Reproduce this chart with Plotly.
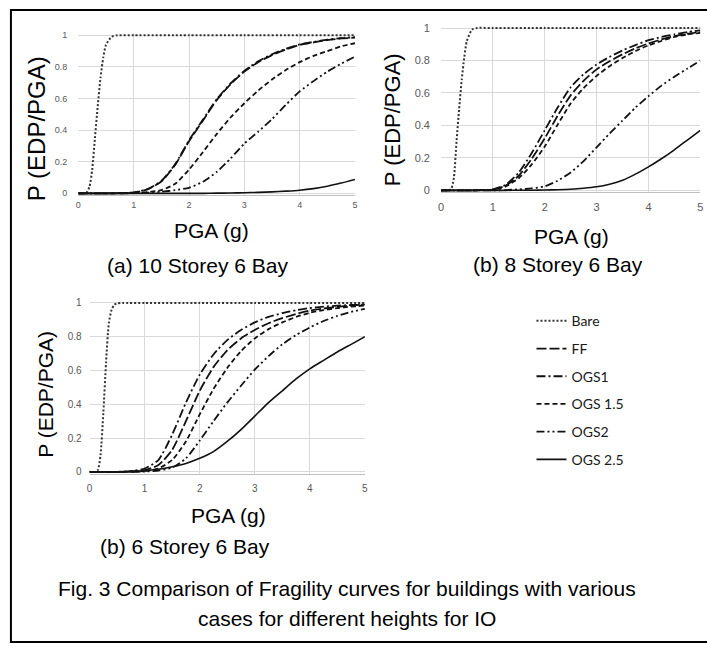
import plotly.graph_objects as go

# ---------------- data ----------------
PGA = [0, 0.25, 0.5, 0.75, 1.0, 1.25, 1.5, 1.75, 2.0, 2.25, 2.5,
       2.75, 3.0, 3.25, 3.5, 3.75, 4.0, 4.25, 4.5, 4.75, 5.0]
BARE_PGA = [0, 0.1, 0.15, 0.2, 0.25, 0.3, 0.35, 0.4, 0.45, 0.5, 0.6, 0.7,
            1.0, 2.0, 3.0, 4.0, 5.0]

SERIES = ["Bare", "FF", "OGS1", "OGS 1.5", "OGS2", "OGS 2.5"]

# (a) 10 Storey 6 Bay
BARE_A = [0, 0, 0.005, 0.04, 0.15, 0.35, 0.55, 0.73, 0.86, 0.94, 0.99, 1.0,
          1.0, 1.0, 1.0, 1.0, 1.0]
FF_A = [0, 0, 0, 0.001, 0.005, 0.025, 0.075, 0.18, 0.33, 0.46, 0.59,
        0.69, 0.77, 0.83, 0.875, 0.91, 0.94, 0.955, 0.97, 0.98, 0.985]
OGS1_A = [0, 0, 0, 0.001, 0.006, 0.027, 0.078, 0.185, 0.335, 0.465, 0.595,
          0.695, 0.775, 0.835, 0.88, 0.915, 0.942, 0.958, 0.972, 0.982, 0.988]
OGS15_A = [0, 0, 0, 0, 0.002, 0.008, 0.02, 0.06, 0.15, 0.26, 0.375,
           0.48, 0.57, 0.65, 0.72, 0.78, 0.83, 0.87, 0.9, 0.93, 0.95]
OGS2_A = [0, 0, 0, 0, 0.001, 0.004, 0.01, 0.02, 0.035, 0.073, 0.135,
          0.22, 0.315, 0.39, 0.47, 0.56, 0.645, 0.71, 0.77, 0.82, 0.865]
OGS25_A = [0, 0, 0, 0, 0, 0, 0, 0, 0, 0, 0.001,
           0.002, 0.004, 0.006, 0.009, 0.014, 0.02, 0.03, 0.045, 0.065, 0.088]

# (b) 8 Storey 6 Bay
BARE_B = [0, 0, 0, 0.01, 0.08, 0.3, 0.5, 0.68, 0.82, 0.92, 0.99, 1.0,
          1.0, 1.0, 1.0, 1.0, 1.0]
FF_B = [0, 0, 0, 0.001, 0.005, 0.03, 0.09, 0.195, 0.32, 0.46, 0.585,
        0.675, 0.745, 0.795, 0.838, 0.875, 0.905, 0.93, 0.95, 0.965, 0.975]
OGS1_B = [0, 0, 0, 0.001, 0.006, 0.035, 0.11, 0.23, 0.37, 0.51, 0.635,
          0.715, 0.775, 0.822, 0.862, 0.895, 0.925, 0.945, 0.96, 0.975, 0.985]
OGS15_B = [0, 0, 0, 0.001, 0.004, 0.025, 0.075, 0.16, 0.27, 0.405, 0.535,
           0.63, 0.705, 0.765, 0.815, 0.858, 0.893, 0.92, 0.945, 0.96, 0.97]
OGS2_B = [0, 0, 0, 0, 0, 0.002, 0.006, 0.012, 0.025, 0.06, 0.11,
          0.18, 0.265, 0.35, 0.43, 0.51, 0.58, 0.645, 0.70, 0.75, 0.80]
OGS25_B = [0, 0, 0, 0, 0, 0, 0.001, 0.001, 0.002, 0.004, 0.007,
           0.013, 0.022, 0.038, 0.062, 0.1, 0.145, 0.195, 0.25, 0.31, 0.37]

# (c) 6 Storey 6 Bay
BARE_C = [0, 0, 0.01, 0.1, 0.35, 0.65, 0.88, 0.96, 0.99, 0.998, 1.0, 1.0,
          1.0, 1.0, 1.0, 1.0, 1.0]
FF_C = [0, 0, 0, 0.002, 0.01, 0.04, 0.13, 0.3, 0.48, 0.62, 0.72,
        0.79, 0.84, 0.88, 0.91, 0.935, 0.955, 0.967, 0.977, 0.985, 0.99]
OGS1_C = [0, 0, 0, 0.004, 0.02, 0.07, 0.22, 0.41, 0.575, 0.695, 0.78,
          0.84, 0.885, 0.918, 0.94, 0.957, 0.97, 0.978, 0.984, 0.988, 0.99]
OGS15_C = [0, 0, 0, 0.001, 0.005, 0.02, 0.07, 0.18, 0.34, 0.49, 0.615,
           0.715, 0.79, 0.845, 0.885, 0.917, 0.942, 0.958, 0.97, 0.978, 0.985]
OGS2_C = [0, 0, 0, 0, 0.002, 0.008, 0.025, 0.08, 0.185, 0.3, 0.41,
          0.51, 0.605, 0.685, 0.755, 0.81, 0.855, 0.893, 0.923, 0.947, 0.965]
OGS25_C = [0, 0, 0, 0.002, 0.006, 0.015, 0.03, 0.05, 0.08, 0.12, 0.18,
           0.25, 0.33, 0.41, 0.48, 0.55, 0.61, 0.66, 0.71, 0.755, 0.8]

Y_TICKS = [0, 0.2, 0.4, 0.6, 0.8, 1]
Y_TICK_TEXT = ["0", "0.2", "0.4", "0.6", "0.8", "1"]
X_TICKS = [0, 1, 2, 3, 4, 5]

PANELS = [
    dict(bare=BARE_A, ff=FF_A, o1=OGS1_A, o15=OGS15_A, o2=OGS2_A, o25=OGS25_A),
    dict(bare=BARE_B, ff=FF_B, o1=OGS1_B, o15=OGS15_B, o2=OGS2_B, o25=OGS25_B),
    dict(bare=BARE_C, ff=FF_C, o1=OGS1_C, o15=OGS15_C, o2=OGS2_C, o25=OGS25_C),
]

# ---------------- styles / layout ----------------
W, H = 707, 648
FONT = "Liberation Sans, Arial, sans-serif"

STYLES = {
    "Bare": dict(color="#333333", width=2.0, dash="2px,2px"),
    "FF": dict(color="#111111", width=1.8, dash="10px,3px"),
    "OGS1": dict(color="#111111", width=1.8, dash="9px,3px,2px,3px"),
    "OGS 1.5": dict(color="#111111", width=1.8, dash="5px,3px"),
    "OGS2": dict(color="#111111", width=1.8, dash="8px,3px,2px,3px,2px,3px"),
    "OGS 2.5": dict(color="#111111", width=1.6, dash="solid"),
}

# pixel geometry of each panel: x-pixel of 0 and 5, y-pixel of 1 and 0
GEOM = [
    dict(x0=76, x5=355, y1=31.7, y0=191.7, tick=9, ystand=10, xstand=1),
    dict(x0=441.7, x5=703.3, y1=24.3, y0=188.7, tick=11, ystand=10, xstand=4),
    dict(x0=87.3, x5=365, y1=302.7, y0=473.7, tick=10, ystand=7, xstand=5),
]
YLO, YHI = -0.012, 1.012

fig = go.Figure()
layout = {}
for i, (p, g) in enumerate(zip(PANELS, GEOM)):
    n = "" if i == 0 else str(i + 1)
    xa, ya = "x" + n, "y" + n
    vals = [p["bare"], p["ff"], p["o1"], p["o15"], p["o2"], p["o25"]]
    for name, v in zip(SERIES, vals):
        xs = BARE_PGA if name == "Bare" else PGA
        fig.add_trace(go.Scatter(
            x=xs, y=v, mode="lines", name=name, xaxis=xa, yaxis=ya,
            line=dict(shape="spline", smoothing=0.6, **STYLES[name]),
            showlegend=(i == 2), legendgroup=name, hoverinfo="skip"))
    span = g["y0"] - g["y1"]
    ptop = g["y1"] - (YHI - 1) * span
    pbot = g["y0"] + (0 - YLO) * span
    layout["xaxis" + n] = dict(
        domain=[g["x0"] / W, g["x5"] / W], range=[0, 5], anchor=ya,
        tickvals=X_TICKS, showgrid=True, gridcolor="#d9d9d9", gridwidth=1,
        showline=True, linecolor="#bfbfbf", zeroline=False,
        tickfont=dict(family=FONT, size=g["tick"], color="#595959"),
        ticks="", ticklabelstandoff=g["xstand"], fixedrange=True)
    layout["yaxis" + n] = dict(
        domain=[1 - pbot / H, 1 - ptop / H], range=[YLO, YHI], anchor=xa,
        tickvals=Y_TICKS, ticktext=Y_TICK_TEXT, showgrid=True,
        gridcolor="#d9d9d9", gridwidth=1, showline=False, zeroline=False,
        tickfont=dict(family=FONT, size=g["tick"], color="#595959"),
        ticks="", ticklabelstandoff=g["ystand"], fixedrange=True)


def ann(text, px, py, size=21, angle=0):
    return dict(text=text, x=px / W, y=1 - py / H, xref="paper", yref="paper",
                showarrow=False, xanchor="center", yanchor="middle",
                textangle=angle, font=dict(family=FONT, size=size, color="#000"))


annotations = [
    ann("P (EDP/PGA)", 34, 126, 24, -90),
    ann("PGA (g)", 210, 229),
    ann("(a) 10 Storey 6 Bay", 196, 265),
    ann("P (EDP/PGA)", 393, 117, 22, -90),
    ann("PGA (g)", 573, 235),
    ann("(b) 8 Storey 6 Bay", 560, 264),
    ann("P (EDP/PGA)", 42, 395, 21, -90),
    ann("PGA (g)", 227, 518),
    ann("(b) 6 Storey 6 Bay", 184, 549),
    ann("Fig. 3 Comparison of Fragility curves for buildings with various", 347, 592),
    ann("cases for different heights for IO", 347, 622),
]

shapes = [dict(type="rect", xref="paper", yref="paper",
               x0=8 / W, x1=1.01, y0=1 - 646 / H, y1=1 - 6 / H,
               line=dict(color="#000", width=2))]

fig.update_layout(
    width=W, height=H, margin=dict(l=0, r=0, t=0, b=0),
    paper_bgcolor="white", plot_bgcolor="white",
    annotations=annotations, shapes=shapes,
    legend=dict(x=533 / W, y=1 - 305 / H, xanchor="left", yanchor="top",
                bgcolor="rgba(0,0,0,0)", tracegroupgap=6.5,
                font=dict(family="Lato, Open Sans, sans-serif", size=14,
                          color="#1a1a1a"),
                itemwidth=30),
    **layout)

fig.write_html("out.html", config={"displayModeBar": False},
               post_script="document.body.style.margin='0';"
                           "document.body.style.overflow='hidden';")
